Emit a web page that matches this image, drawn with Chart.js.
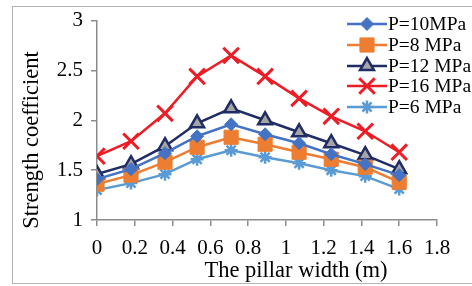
<!DOCTYPE html>
<html lang="en">
  <head>
    <meta charset="UTF-8" />
    <title>Strength coefficient</title>
    <script src="https://cdn.jsdelivr.net/npm/chart.js"></script>
    <style>
      body { margin: 0; background: #fff; }
    </style>
  </head>
  <body>
    <canvas id="myChart" width="472" height="286"></canvas>

    <script>
      // pillar width (m)
      const widths = [0, 0.18, 0.36, 0.53, 0.71, 0.89, 1.07, 1.24, 1.42, 1.6];

      const p10 = [1.41, 1.51, 1.67, 1.84, 1.96, 1.86, 1.77, 1.66, 1.56, 1.45];
      const p8 = [1.36, 1.45, 1.58, 1.73, 1.83, 1.76, 1.68, 1.61, 1.53, 1.38];
      const p12 = [1.46, 1.56, 1.74, 1.97, 2.12, 2.0, 1.88, 1.77, 1.65, 1.51];
      const p16 = [1.64, 1.79, 2.07, 2.44, 2.65, 2.44, 2.22, 2.04, 1.89, 1.68];
      const p6 = [1.3, 1.37, 1.46, 1.61, 1.7, 1.63, 1.57, 1.5, 1.44, 1.31];

      const seriesNames = ["P=10MPa", "P=8 MPa", "P=12 MPa", "P=16 MPa", "P=6 MPa"];

      const xTitle = "The pillar width (m)";
      const yTitle = "Strength coefficient";

      const serif = "'Liberation Serif', 'Times New Roman', serif";

      function pts(vals) {
        return vals.map((v, i) => ({ x: widths[i], y: v }));
      }

      // 선 스타일
      const styles = [
        { color: "#4472C4", fill: "#4472C4", point: "rectRot", r: 6.5, bw: 1 },
        { color: "#ED7D31", fill: "#ED7D31", point: "rect", r: 10, bw: 1 },
        { color: "#1F2C66", fill: "#A5A5A5", point: "triangle", r: 8, bw: 2.5 },
        { color: "#EE1C25", fill: "#EE1C25", point: "crossRot", r: 11, bw: 3 },
        { color: "#5B9BD5", fill: "#5B9BD5", point: "star", r: 6.5, bw: 2.5 },
      ];

      const allData = [p10, p8, p12, p16, p6];

      const datasets = allData.map((vals, i) => ({
        label: seriesNames[i],
        data: pts(vals),
        borderColor: styles[i].color,
        backgroundColor: styles[i].color,
        borderWidth: 2.5,
        tension: 0,
        pointStyle: styles[i].point,
        pointRadius: styles[i].r,
        pointBackgroundColor: styles[i].fill,
        pointBorderColor: styles[i].color,
        pointBorderWidth: styles[i].bw,
      }));

      // 테두리, 축 제목, 범례 그리기
      const decorations = {
        id: "decorations",
        afterDraw(chart) {
          const ctx = chart.ctx;
          ctx.save();
          ctx.strokeStyle = "#B4B4B4";
          ctx.lineWidth = 1;
          ctx.strokeRect(12.5, 6.5, 470, 277);

          ctx.fillStyle = "#000";
          ctx.font = "22.5px " + serif;
          ctx.textAlign = "center";
          ctx.textBaseline = "middle";
          ctx.fillText(xTitle, 296, 271);
          ctx.translate(32, 140);
          ctx.rotate(-Math.PI / 2);
          ctx.fillText(yTitle, 0, 0);
          ctx.restore();

          ctx.save();
          const rowY = [24, 45, 66, 86, 107];
          ctx.font = "19.5px " + serif;
          ctx.textAlign = "left";
          ctx.textBaseline = "middle";
          styles.forEach((s, i) => {
            const y = rowY[i];
            ctx.strokeStyle = s.color;
            ctx.lineWidth = 2.5;
            ctx.beginPath();
            ctx.moveTo(347, y);
            ctx.lineTo(387, y);
            ctx.stroke();
            ctx.fillStyle = s.fill;
            ctx.strokeStyle = s.color;
            ctx.lineWidth = s.bw;
            Chart.helpers.drawPoint(ctx, {
              pointStyle: s.point,
              radius: s.r,
              borderWidth: s.bw,
              rotation: 0,
            }, 367, y);
            ctx.fillStyle = "#000";
            ctx.fillText(seriesNames[i], 388, y + 1);
          });
          ctx.restore();
        },
      };

      new Chart(document.getElementById("myChart"), {
        type: "line",
        data: { datasets: datasets },
        options: {
          responsive: false,
          animation: false,
          layout: { padding: { top: 18, right: 35, bottom: 0, left: 0 } },
          plugins: { legend: { display: false }, tooltip: { enabled: false } },
          scales: {
            x: {
              type: "linear",
              min: 0,
              max: 1.8,
              afterFit: (s) => { s.height = 66; },
              border: { color: "#8C8C8C", width: 1.5 },
              grid: { drawOnChartArea: false, color: "#8C8C8C", tickLength: 6, lineWidth: 1.5 },
              ticks: {
                stepSize: 0.2,
                padding: 10,
                color: "#000",
                maxRotation: 0,
                font: { family: serif, size: 21 },
                callback: (v) => String(Number(v.toFixed(1))),
              },
            },
            y: {
              min: 1,
              max: 3,
              afterFit: (s) => { s.width = 97; },
              border: { color: "#8C8C8C", width: 1.5 },
              grid: { drawOnChartArea: false, color: "#8C8C8C", tickLength: 6, lineWidth: 1.5 },
              ticks: {
                stepSize: 0.5,
                padding: 8,
                color: "#000",
                font: { family: serif, size: 21 },
                callback: (v) => String(Number(v.toFixed(1))),
              },
            },
          },
        },
        plugins: [decorations],
      });
    </script>
  </body>
</html>
